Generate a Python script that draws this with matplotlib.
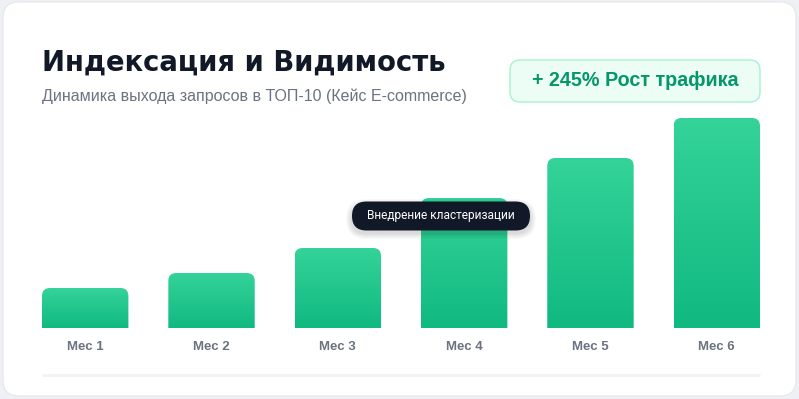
import numpy as np
import matplotlib.pyplot as plt
from matplotlib.patches import FancyBboxPatch
from matplotlib.colors import LinearSegmentedColormap

# data
months = ["Мес 1", "Мес 2", "Мес 3", "Мес 4", "Мес 5", "Мес 6"]
visibility = [40, 55, 80, 130, 170, 210]
title = "Индексация и Видимость"
subtitle = "Динамика выхода запросов в ТОП-10 (Кейс E-commerce)"
badge_text = "+ 245% Рост трафика"
note_text = "Внедрение кластеризации"
note_month = 3

W, H = 799, 399
fig = plt.figure(figsize=(W / 100, H / 100), dpi=100)
fig.patch.set_facecolor("#eef0f3")

# background / card layer in pixel coords
bg = fig.add_axes([0, 0, 1, 1])
bg.set_xlim(0, W)
bg.set_ylim(H, 0)
bg.axis("off")
bg.add_patch(FancyBboxPatch((3, 2), 793, 394, boxstyle="round,pad=0,rounding_size=16",
                            facecolor="white", edgecolor="#e5e7eb", lw=0.8))
bg.plot([42, 760], [375, 375], color="#f1f2f4", lw=2, solid_capstyle="butt")

bg.text(42, 63, title, fontsize=19.8, fontweight="heavy", color="#111827",
        family="DejaVu Sans", va="center", ha="left")
bg.text(42, 96, subtitle, fontsize=11.5, color="#6b7280",
        family="Liberation Sans", va="center", ha="left")

bg.add_patch(FancyBboxPatch((510, 60), 250, 42, boxstyle="round,pad=0,rounding_size=10",
                            facecolor="#ecfdf5", edgecolor="#a7f3d0", lw=1))
bg.text(635, 81, badge_text, fontsize=14.2, fontweight="bold", color="#059669",
        family="Liberation Sans", va="center", ha="center")

# bars
ax = fig.add_axes([42 / W, (H - 328) / H, 718 / W, 230 / H])
ax.set_facecolor("none")
ax.axis("off")
x = np.arange(len(months))
width = 0.684
ax.set_xlim(-width / 2, len(months) - 1 + width / 2)
ax.set_ylim(0, 230)
bars = ax.bar(x, visibility, width=width, color="none")

px_x = (len(months) - 1 + width) / 718.0  # x data units per pixel
r = 8 * px_x
aspect = 1.0 / px_x
cmap = LinearSegmentedColormap.from_list("g", ["#10b981", "#34d399"])
grad = np.linspace(0, 1, 256).reshape(-1, 1)
for b in bars:
    x0, w, h = b.get_x(), b.get_width(), b.get_height()
    patch = FancyBboxPatch((x0, -20), w, h + 20,
                           boxstyle=f"round,pad=0,rounding_size={r}",
                           mutation_aspect=aspect, facecolor="none", edgecolor="none")
    ax.add_patch(patch)
    im = ax.imshow(grad, extent=[x0, x0 + w, 0, h], origin="lower", cmap=cmap,
                   aspect="auto", interpolation="bilinear")
    im.set_clip_path(patch)
ax.set_xlim(-width / 2, len(months) - 1 + width / 2)
ax.set_ylim(0, 230)

for xi, m in zip(x, months):
    ax.annotate(m, (xi, 0), xytext=(0, -13.5), textcoords="offset points",
                ha="center", va="center", fontsize=9.5, fontweight="bold",
                color="#6b7280", family="Liberation Sans", annotation_clip=False)

# tooltip overlay
top = fig.add_axes([0, 0, 1, 1])
top.set_xlim(0, W)
top.set_ylim(H, 0)
top.axis("off")
cx, cy = 441, 216
for i in range(6, 0, -1):
    top.add_patch(FancyBboxPatch((cx - 89 - i, cy - 14 - i + 3), 178 + 2 * i, 28 + 2 * i,
                                 boxstyle=f"round,pad=0,rounding_size={14 + i}",
                                 facecolor="black", edgecolor="none", alpha=0.025))
top.add_patch(FancyBboxPatch((cx - 89, cy - 14.5), 178, 29,
                             boxstyle="round,pad=0,rounding_size=14.5",
                             facecolor="#111827", edgecolor="none"))
top.text(cx, cy, note_text, fontsize=8.6, color="white", family="Roboto",
         ha="center", va="center")

fig.savefig("out.png", dpi=100, facecolor=fig.get_facecolor())
